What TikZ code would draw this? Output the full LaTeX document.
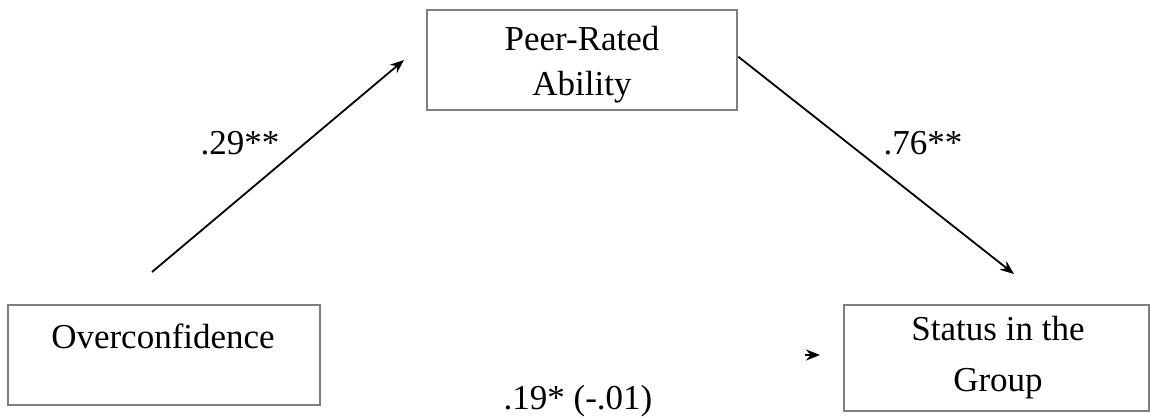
\documentclass[tikz,border=0pt]{standalone}
\usepackage{fontspec}
\setmainfont{Liberation Serif}
\usetikzlibrary{arrows.meta,calc}
\definecolor{boxgray}{HTML}{7F7F7F}
\begin{document}
\begin{tikzpicture}[x=1pt,y=-1pt,
  box/.style={draw=boxgray, line width=2.6pt, inner sep=0pt},
  lbl/.style={font=\fontsize{35}{46}\selectfont, align=center, inner sep=0pt, text=black},
  conn/.style={draw=black, line width=1.8pt, -{Stealth[length=14pt,width=11pt]}}]
\useasboundingbox (0,0) rectangle (1151,418);
\fill[white] (0,0) rectangle (1151,418);
% boxes
\node[box, minimum width=312pt, minimum height=100pt] (ov) at (164,355) {};
\node[box, minimum width=310pt, minimum height=100pt] (peer) at (582,60) {};
\node[box, minimum width=305pt, minimum height=106pt] (st) at (996.5,358) {};
% texts
\node[lbl] (ovt) at (163,336) {Overconfidence};
\node[lbl, font=\fontsize{35}{45}\selectfont] (peert) at (582,65) {Peer-Rated\\Ability};
\node[lbl, font=\fontsize{35}{51}\selectfont] (stt) at (998,358) {Status in the\\Group};
% connectors
\coordinate (a1s) at (152,272);
\coordinate (a1e) at (404,60);
\draw[conn] (a1s) -- (a1e);
\coordinate (a2s) at ($(peer.north east)+(0,48)$);
\coordinate (a2e) at (1014,274);
\draw[conn] (a2s) -- (a2e);
\coordinate (a3s) at (805,355);
\coordinate (a3e) at (820,355);
\draw[conn] (a3s) -- (a3e);
% coefficient labels
\node[lbl] (l1) at (240,143) {.29**};
\node[lbl] (l2) at (923,143) {.76**};
\node[lbl] (l3) at (578,401) {.19* (-.01)};
\end{tikzpicture}
\end{document}
